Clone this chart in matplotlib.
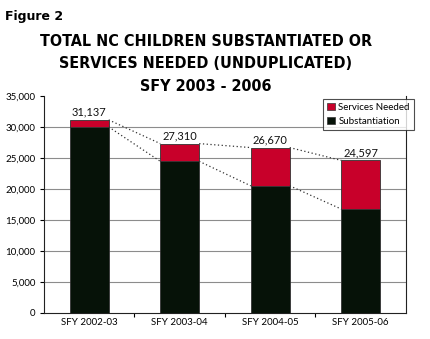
import matplotlib
matplotlib.use('Agg')
import matplotlib.pyplot as plt
from matplotlib.patches import Patch

# data
years = ['SFY 2002-03', 'SFY 2003-04', 'SFY 2004-05', 'SFY 2005-06']
substantiation = [30000, 24450, 20500, 16750]
totals = [31137, 27310, 26670, 24597]
services = [t - s for t, s in zip(totals, substantiation)]
yticks = [0, 5000, 10000, 15000, 20000, 25000, 30000, 35000]

red = '#c8002a'
black = '#061208'
w = 0.43

fig = plt.figure(figsize=(4.31, 3.39), dpi=100)
ax = fig.add_axes([0.102, 0.077, 0.84, 0.64])

x = list(range(len(years)))
ax.bar(x, substantiation, width=w, color=black, edgecolor='#333333', linewidth=0.6, zorder=3)
ax.bar(x, services, width=w, bottom=substantiation, color=red, edgecolor='#333333',
       linewidth=0.6, zorder=3)

# dotted connector lines between bar tops
for series in (totals, substantiation):
    for i in range(len(x) - 1):
        ax.plot([x[i] + w / 2, x[i + 1] - w / 2], [series[i], series[i + 1]],
                linestyle=(0, (1, 2)), color='#333333', linewidth=0.9, zorder=4)

for i, t in enumerate(totals):
    ax.text(x[i], t + 400, f'{t:,}', ha='center', va='bottom', fontsize=8,
            family='Lato', color='#111111')

ax.set_xlim(-0.5, 3.5)
ax.set_ylim(0, 35000)
ax.set_yticks(yticks)
ax.set_yticklabels([f'{v:,}' for v in yticks], fontsize=7, family='Lato')
ax.set_xticks(x)
ax.set_xticklabels(years, fontsize=7, family='Lato')
ax.set_xticks([0.5, 1.5, 2.5], minor=True)
ax.tick_params(axis='x', which='major', length=0, pad=4)
ax.tick_params(axis='x', which='minor', length=3, width=0.8, direction='out')
ax.tick_params(axis='y', length=3, width=0.8, direction='out', pad=3)

for v in yticks[1:-1]:
    ax.axhline(v, color='#8c8c8c', linewidth=0.8, zorder=1)

ax.spines['top'].set_visible(False)
for s in ('left', 'bottom', 'right'):
    ax.spines[s].set_linewidth(0.8)
    ax.spines[s].set_color('#222222')

handles = [Patch(facecolor=red, edgecolor='#333333', linewidth=0.5),
           Patch(facecolor=black, edgecolor='#333333', linewidth=0.5)]
leg = fig.legend(handles, ['Services Needed', 'Substantiation'],
                 loc='upper left', bbox_to_anchor=(0.738, 0.722),
                 prop={'family': 'Lato', 'size': 7}, frameon=True, fancybox=False,
                 handlelength=0.8, handleheight=0.8, handletextpad=0.4,
                 borderpad=0.4, labelspacing=0.5)
leg.get_frame().set_edgecolor('#222222')
leg.get_frame().set_linewidth(0.8)

fig.text(0.012, 0.95, 'Figure 2', fontsize=9, fontweight='bold', family='DejaVu Sans',
         ha='left', va='center')
title_lines = ['TOTAL NC CHILDREN SUBSTANTIATED OR',
               'SERVICES NEEDED (UNDUPLICATED)',
               'SFY 2003 - 2006']
for k, line in enumerate(title_lines):
    fig.text(0.478, 0.878 - k * 0.066, line, fontsize=11.5, fontweight='heavy',
             fontstretch='condensed', family='DejaVu Sans', ha='center', va='center')

fig.savefig('out.png', dpi=100)
